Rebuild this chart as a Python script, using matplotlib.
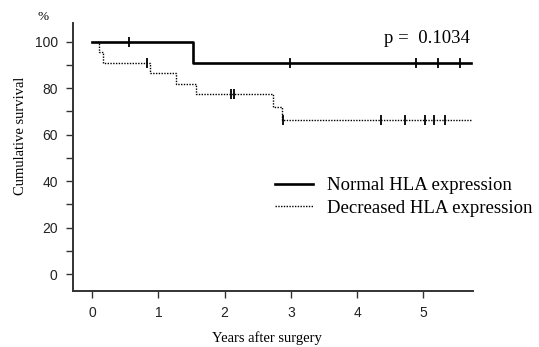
import numpy as np
import matplotlib
matplotlib.use('Agg')
import matplotlib.pyplot as plt

# Kaplan-Meier steps (years, % surviving)
normal_t = [0, 1.52, 5.72]
normal_s = [100, 90.9, 90.9]
normal_censor = [0.56, 2.99, 4.89, 5.22, 5.56]

decreased_t = [0, 0.11, 0.16, 0.87, 1.26, 1.56, 2.73, 2.86, 5.74]
decreased_s = [100, 95.5, 90.9, 86.4, 81.8, 77.3, 71.8, 66.3, 66.3]
decreased_censor = [0.83, 2.09, 2.14, 2.88, 4.36, 4.72, 5.02, 5.16, 5.33]

x_ticks = [0, 1, 2, 3, 4, 5]
y_ticks = [0, 20, 40, 60, 80, 100]
p_text = 'p =  0.1034'

SERIF = 'Liberation Serif'
SANS = 'Liberation Sans'
AXIS_COLOR = '#333333'


def surv_at(times, surv, t):
    # value of the step function just at time t
    i = np.searchsorted(times, t, side='right') - 1
    return surv[i]


fig = plt.figure(figsize=(5.39, 3.47), dpi=100)
ax = fig.add_axes([0.1354, 0.1614, 0.7422, 0.7723])

# normal HLA expression
ax.step(normal_t, normal_s, where='post', color='black', lw=1.9,
        label='Normal HLA expression')
ax.plot(normal_censor, [surv_at(normal_t, normal_s, t) for t in normal_censor],
        ls='none', marker='|', ms=7, mew=1.3, color='black')

# decreased HLA expression
ax.step(decreased_t, decreased_s, where='post', color='black', lw=1.0,
        ls=(0, (1, 1)), label='Decreased HLA expression')
ax.plot(decreased_censor,
        [surv_at(decreased_t, decreased_s, t) for t in decreased_censor],
        ls='none', marker='|', ms=7, mew=1.3, color='black')

ax.set_xlim(-0.29, 5.75)
ax.set_ylim(-7.3, 108)

ax.set_xticks(x_ticks)
ax.set_xticklabels([str(v) for v in x_ticks], fontfamily=SANS, fontsize=10)
ax.set_yticks(y_ticks)
ax.set_yticklabels([str(v) for v in y_ticks], fontfamily=SANS, fontsize=10)
ax.set_yticks(np.arange(10, 100, 20), minor=True)
ax.tick_params(axis='both', which='both', direction='out', length=5,
               width=1, color=AXIS_COLOR, labelcolor='#222222', pad=6)

for side in ['top', 'right']:
    ax.spines[side].set_visible(False)
for side in ['left', 'bottom']:
    ax.spines[side].set_linewidth(1.4)
    ax.spines[side].set_color(AXIS_COLOR)

ax.set_xlabel('Years after surgery', fontfamily=SERIF, fontsize=10.5)
ax.set_ylabel('Cumulative survival', fontfamily=SERIF, fontsize=10.5)
ax.xaxis.set_label_coords(0.485, -0.15)
ax.yaxis.set_label_coords(-0.115, 0.58)

fig.text(0.08, 0.95, '%', fontfamily=SERIF, fontsize=9.5, ha='center', va='center')
ax.text(0.9925, 0.944, p_text, transform=ax.transAxes, ha='right', va='center',
        fontfamily=SERIF, fontsize=13.5)

ax.legend(loc='upper left', bbox_to_anchor=(0.505, 0.425), frameon=False,
          prop={'family': SERIF, 'size': 13.5}, handlelength=2.0,
          handletextpad=0.75, labelspacing=0.28, borderaxespad=0,
          borderpad=0)

fig.savefig('out.png', dpi=100)
